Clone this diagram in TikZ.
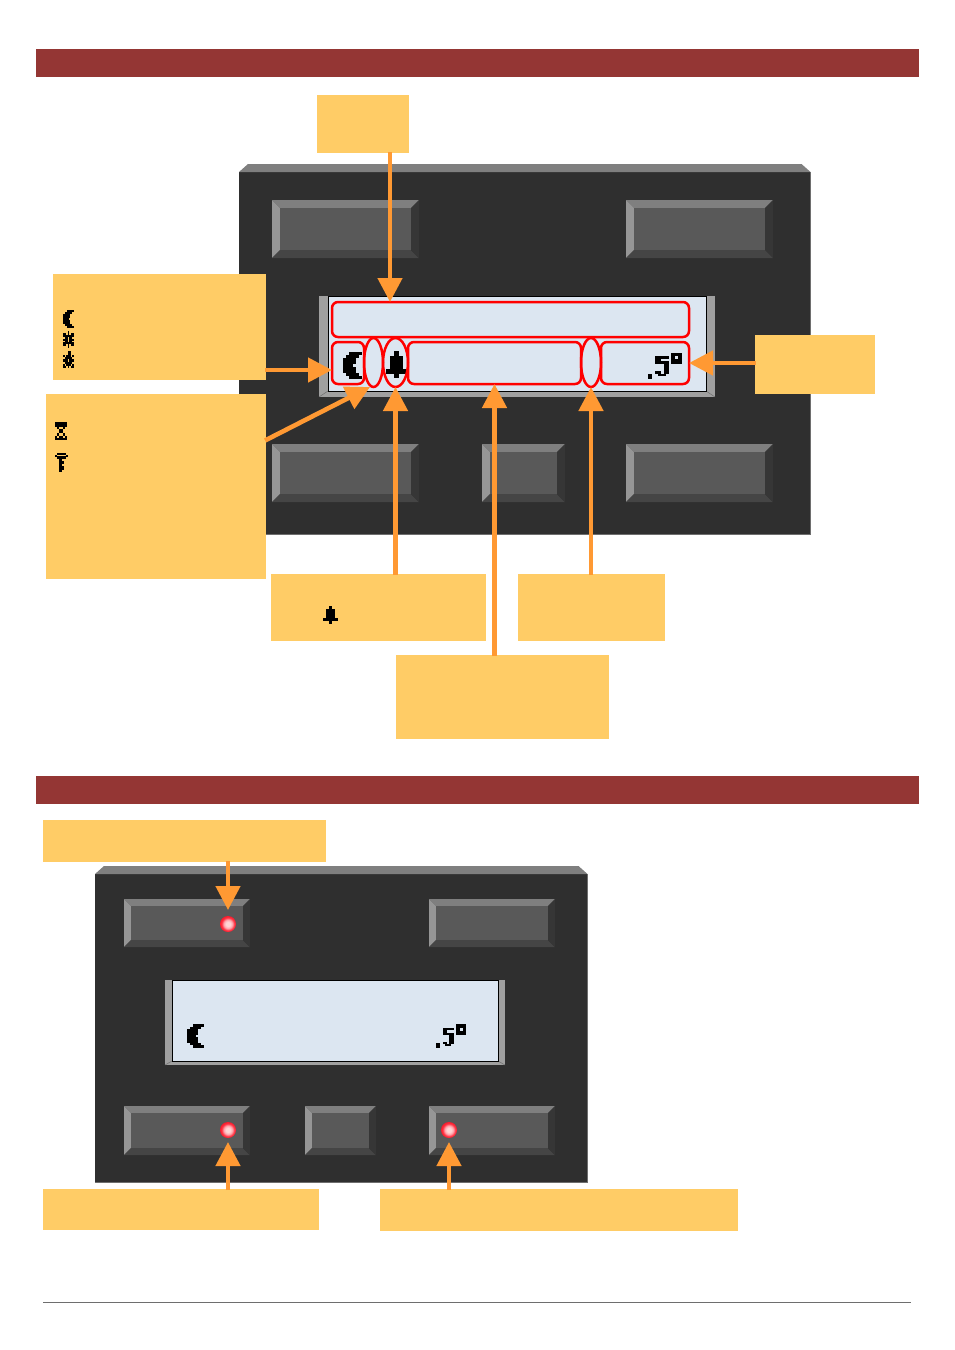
\documentclass[tikz,border=0pt]{standalone}
\usetikzlibrary{arrows.meta,shapes.geometric}
\definecolor{hdr}{HTML}{943634}
\definecolor{callfill}{HTML}{FFCC66}
\definecolor{arrowc}{HTML}{FF9933}
\definecolor{panelc}{HTML}{2F2F2F}
\definecolor{lcdc}{HTML}{DCE6F1}
\definecolor{ledin}{HTML}{FFD4D4}
\definecolor{ledmid}{HTML}{FFA0A8}
\definecolor{ledrim}{HTML}{FF4050}
\definecolor{ledout}{HTML}{F81C2C}
\pgfdeclareradialshading{ledsh}{\pgfpoint{0bp}{0bp}}{%
  color(0bp)=(ledin); color(7bp)=(ledin); color(14bp)=(ledmid); color(19bp)=(ledrim); color(24bp)=(ledout); color(50bp)=(ledout)}
\tikzset{
  x=1pt,y=-1pt,
  callout/.style={fill=callfill,draw=none,inner sep=0,outer sep=0},
  header/.style={fill=hdr,draw=none,inner sep=0,outer sep=0,minimum width=883,minimum height=28},
  arr/.style={draw=arrowc,line width=4.6,-{Triangle[length=24,width=24]},shorten <=-1pt},
  zone/.style={draw=red,line width=2.5,rounded corners=6,inner sep=0,outer sep=0},
  zoneel/.style={draw=red,line width=2.5,ellipse,inner sep=0,outer sep=0},
  led/.style={circle,inner sep=0,outer sep=0,minimum size=16,draw=none,shade,shading=ledsh},
}
% bevelled button
\newcommand{\bevelbtn}[5]{%
  \fill[fill={rgb,255:red,127;green,127;blue,127}] (#1,#2) -- (#3,#2) -- ({#3-#5},{#2+#5}) -- ({#1+#5},{#2+#5}) -- cycle;
  \fill[fill={rgb,255:red,150;green,150;blue,150}] (#1,#2) -- ({#1+#5},{#2+#5}) -- ({#1+#5},{#4-#5}) -- (#1,#4) -- cycle;
  \fill[fill={rgb,255:red,69;green,69;blue,69}] (#1,#4) -- ({#1+#5},{#4-#5}) -- ({#3-#5},{#4-#5}) -- (#3,#4) -- cycle;
  \fill[fill={rgb,255:red,54;green,54;blue,54}] (#3,#2) -- ({#3-#5},{#2+#5}) -- ({#3-#5},{#4-#5}) -- (#3,#4) -- cycle;
  \fill[fill={rgb,255:red,89;green,89;blue,89}] ({#1+#5},{#2+#5}) rectangle ({#3-#5},{#4-#5});
}
% dark panel
\newcommand{\panel}[4]{%
  \fill[panelc] (#1,{#2+8}) rectangle (#3,#4);
  \fill[fill={rgb,255:red,127;green,127;blue,127}] (#1,{#2+8}) -- ({#1+9},#2) -- ({#3-9},#2) -- (#3,{#2+8}) -- cycle;
  \draw[line width=.6,fill=none,draw={rgb,255:red,110;green,110;blue,110}] (#3,{#2+8}) -- (#3,#4) -- (#1,#4);
}
% display: outer x0 y0 x1 y1, inner x0 x1 y1
\newcommand{\lcd}[7]{%
  \fill[fill={rgb,255:red,160;green,160;blue,160}] (#1,#2) rectangle (#3,#4);
  \draw[line width=.5,draw={rgb,255:red,110;green,110;blue,110}] (#1,#4) -- (#5,#7) (#3,#4) -- (#6,#7);
  \filldraw[fill=lcdc,draw=black,line width=1] (#5,#2) rectangle (#6,#7);
}
% bitmap glyph: x y pixelw pixelh list(row/from/to)
\newcommand{\glyph}[5]{%
  \foreach \rr/\aa/\bb in #5 {%
    \fill[black] ({#1+\aa*#3},{#2+\rr*#4}) rectangle ({#1+(\bb+1)*#3+.05},{#2+(\rr+1)*#4+.05});
  }%
}
\def\gmoon{0/2/5,1/1/4,2/0/3,3/0/3,4/0/2,5/0/3,6/0/3,7/1/4,8/2/5}
\def\gsun{0/3/3,1/0/1,1/3/3,1/5/6,2/0/6,3/1/2,3/4/5,4/0/2,4/4/6,5/1/2,5/4/5,6/0/6,7/0/1,7/3/3,7/5/6,8/3/3}
\def\gsunb{0/3/4,1/3/4,2/0/0,2/2/4,2/6/6,3/1/5,4/0/2,4/4/6,5/0/2,5/4/6,6/1/5,7/0/0,7/2/4,7/6/6,8/0/1,8/3/3,8/5/6}
\def\ghour{0/0/5,1/0/5,2/1/1,2/4/4,3/2/3,4/2/3,5/1/1,5/4/4,6/0/0,6/2/3,6/5/5,7/0/5}
\def\gkey{0/1/5,1/0/6,2/1/5,3/2/3,4/2/4,5/2/3,6/2/4,7/2/4,8/2/3}
\def\gbell{0/2/2,1/1/3,2/1/3,3/1/3,4/0/4,5/2/2}
\def\gfive{0/0/4,1/0/1,2/0/4,3/3/4,4/3/4,5/3/4,6/0/1,6/3/4,7/1/3}
\begin{document}
\begin{tikzpicture}
\useasboundingbox[fill=white] (0,0) rectangle (954,1350);

% headers
\node[header] (h1) at (477.5,63) {};
\node[header] (h2) at (477.5,790) {};

% ---- first device
\panel{239}{164}{810.5}{534.5}
\bevelbtn{272}{200}{419}{258}{8}
\bevelbtn{626}{200}{773}{258}{8}
\bevelbtn{272}{444}{419}{502}{8}
\bevelbtn{482}{444}{565}{502}{8}
\bevelbtn{626}{444}{773}{502}{8}
\lcd{319}{296}{715}{397}{328}{706}{391}

\glyph{343}{352}{3.17}{3}{\gmoon}
\glyph{386}{351}{4.2}{4.5}{\gbell}
\fill[black] (648,374) rectangle (652,379);
\glyph{655}{356}{2.85}{2.55}{\gfive}
\fill[black] (671,352.7) rectangle (682.3,364);
\fill[lcdc] (674.5,356) rectangle (678.3,359.3);

\node[zone,minimum width=357,minimum height=35] (zrow) at (510.5,319.5) {};
\node[zone,minimum width=32,minimum height=42] (zmode) at (348,363) {};
\node[zoneel,minimum width=19,minimum height=49] (zel1) at (373.5,362.5) {};
\node[zoneel,minimum width=25,minimum height=49] (zel2) at (395.5,362.5) {};
\node[zone,minimum width=173,minimum height=42] (zmid) at (494.5,363) {};
\node[zoneel,minimum width=20,minimum height=49] (zel3) at (591,362.5) {};
\node[zone,minimum width=88,minimum height=42] (ztemp) at (645,363) {};

% callouts
\node[callout,minimum width=92,minimum height=58] (ctop) at (363,124) {};
\node[callout,minimum width=213,minimum height=106] (cmode) at (159.5,327) {};
\node[callout,minimum width=220,minimum height=185] (cstat) at (156,486.5) {};
\node[callout,minimum width=120,minimum height=59] (ctemp) at (815,364.5) {};
\node[callout,minimum width=215,minimum height=67] (cbell) at (378.5,607.5) {};
\node[callout,minimum width=147,minimum height=67] (cright) at (591.5,607.5) {};
\node[callout,minimum width=213,minimum height=84] (cmid) at (502.5,697) {};

\glyph{63}{310}{1.83}{2}{\gmoon}
\glyph{63}{331}{1.57}{1.9}{\gsun}
\glyph{63}{351}{1.57}{1.9}{\gsunb}
\glyph{55}{422}{2}{2.25}{\ghour}
\glyph{55}{453}{1.86}{2.1}{\gkey}
\fill[callfill] (57,455.4) rectangle (66,456.2);
\glyph{323}{606}{3}{3}{\gbell}

% connectors, first device
\coordinate (trow) at (390,302);
\coordinate (tmode) at (332,370);
\coordinate (tstat) at (370,387);
\coordinate (sstat) at (266,440);
\draw[arr] (trow |- ctop.south) -- (trow);
\draw[arr] (cmode.east |- tmode) -- (tmode);
\draw[arr] (sstat) -- (tstat);
\draw[arr] (cbell.north -| zel2.south) -- (zel2.south);
\draw[arr] (cmid.north -| zmid.south) -- (zmid.south);
\draw[arr] (cright.north -| zel3.south) -- (zel3.south);
\draw[arr] (ctemp.west |- ztemp.east) -- (ztemp.east);

% ---- second device
\panel{95}{866}{587.5}{1182.5}
\bevelbtn{124}{899}{250}{947}{7}
\bevelbtn{429}{899}{555}{947}{7}
\bevelbtn{124}{1106}{250}{1155}{7}
\bevelbtn{305}{1106}{376}{1155}{7}
\bevelbtn{429}{1106}{555}{1155}{7}
\lcd{165}{980}{505}{1065}{172}{498}{1061}

\glyph{187}{1024}{2.83}{2.67}{\gmoon}
\fill[black] (436,1043) rectangle (440,1048);
\glyph{443}{1028}{2.1}{2.25}{\gfive}
\fill[black] (456,1024.3) rectangle (466,1035);
\fill[lcdc] (459.5,1028) rectangle (462.5,1031.3);

\node[led] (led1) at (228,924) {};
\node[led] (led2) at (228,1130) {};
\node[led] (led3) at (449,1130) {};

\node[callout,minimum width=283,minimum height=42] (cled1) at (184.5,841) {};
\node[callout,minimum width=276,minimum height=41] (cled2) at (181,1209.5) {};
\node[callout,minimum width=358,minimum height=42] (cled3) at (559,1210) {};

\coordinate (tl1) at (228,910);
\coordinate (tl2) at (228,1142);
\coordinate (tl3) at (449,1142);
\draw[arr] (tl1 |- cled1.south) -- (tl1);
\draw[arr] (tl2 |- cled2.north) -- (tl2);
\draw[arr] (tl3 |- cled3.north) -- (tl3);

% footer rule
\coordinate (fl) at (43,1302.5);
\coordinate (fr) at (911,1302.5);
\draw[line width=.8,draw={rgb,255:red,110;green,110;blue,110}] (fl) -- (fr);
\end{tikzpicture}
\end{document}
